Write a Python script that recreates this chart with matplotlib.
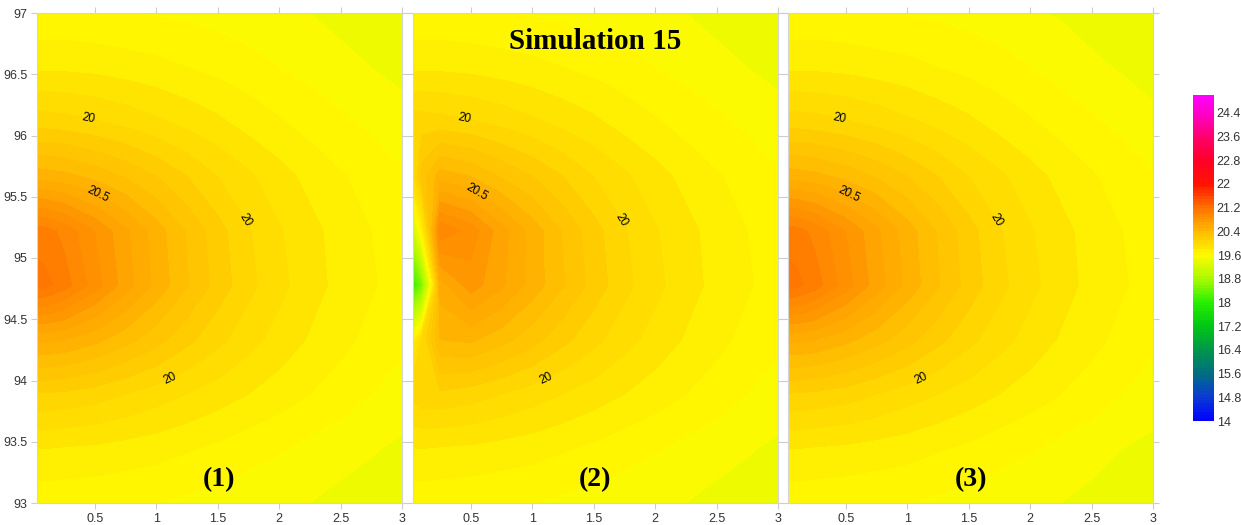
import numpy as np
import matplotlib
matplotlib.use("Agg")
import matplotlib.pyplot as plt
from matplotlib.colors import LinearSegmentedColormap, Normalize

# ---------------------------------------------------------------------------
# Data: temperature field on a rectilinear grid (rows follow y_grid,
# columns follow x_grid), one table per simulation case.
# ---------------------------------------------------------------------------
x_grid = [0.0, 0.1, 0.25, 0.5, 0.75, 1.0, 1.25, 1.5, 1.75, 2.0, 2.25, 2.5, 2.75, 3.0]
y_grid = [93.0, 93.444, 93.889, 94.333, 94.778, 95.222, 95.667, 96.111, 96.556, 97.0]

temp_case1 = [
    [19.63, 19.63, 19.63, 19.62, 19.61, 19.60, 19.58, 19.56, 19.54, 19.52, 19.50, 19.47, 19.45, 19.42],
    [19.80, 19.80, 19.79, 19.78, 19.76, 19.74, 19.71, 19.68, 19.64, 19.61, 19.57, 19.54, 19.51, 19.48],
    [20.09, 20.09, 20.08, 20.05, 20.00, 19.95, 19.90, 19.85, 19.80, 19.75, 19.70, 19.65, 19.60, 19.56],
    [20.52, 20.52, 20.50, 20.43, 20.34, 20.24, 20.13, 20.03, 19.94, 19.86, 19.79, 19.73, 19.67, 19.62],
    [21.15, 21.13, 21.05, 20.85, 20.65, 20.47, 20.31, 20.16, 20.03, 19.93, 19.84, 19.77, 19.71, 19.66],
    [21.06, 21.04, 20.97, 20.80, 20.62, 20.45, 20.29, 20.14, 20.01, 19.91, 19.83, 19.76, 19.70, 19.65],
    [20.46, 20.45, 20.43, 20.37, 20.29, 20.20, 20.10, 20.00, 19.92, 19.84, 19.77, 19.71, 19.66, 19.61],
    [20.05, 20.05, 20.04, 20.01, 19.97, 19.92, 19.87, 19.82, 19.76, 19.71, 19.66, 19.62, 19.58, 19.54],
    [19.78, 19.78, 19.78, 19.77, 19.75, 19.73, 19.70, 19.67, 19.64, 19.60, 19.57, 19.53, 19.50, 19.47],
    [19.62, 19.62, 19.62, 19.61, 19.60, 19.59, 19.58, 19.56, 19.54, 19.52, 19.50, 19.47, 19.45, 19.42],
]

temp_case2 = [
    [19.63, 19.63, 19.63, 19.62, 19.61, 19.60, 19.58, 19.56, 19.54, 19.52, 19.50, 19.47, 19.45, 19.42],
    [19.80, 19.80, 19.79, 19.78, 19.76, 19.74, 19.71, 19.68, 19.64, 19.61, 19.57, 19.54, 19.51, 19.48],
    [20.02, 20.07, 20.08, 20.05, 20.00, 19.95, 19.90, 19.85, 19.80, 19.75, 19.70, 19.65, 19.60, 19.56],
    [19.60, 20.00, 20.40, 20.42, 20.34, 20.24, 20.13, 20.03, 19.94, 19.86, 19.79, 19.73, 19.67, 19.62],
    [17.90, 18.50, 20.55, 20.75, 20.62, 20.46, 20.31, 20.16, 20.03, 19.93, 19.84, 19.77, 19.71, 19.66],
    [18.90, 19.70, 20.98, 20.86, 20.64, 20.46, 20.29, 20.14, 20.01, 19.91, 19.83, 19.76, 19.70, 19.65],
    [19.85, 20.25, 20.45, 20.40, 20.29, 20.20, 20.10, 20.00, 19.92, 19.84, 19.77, 19.71, 19.66, 19.61],
    [20.05, 20.05, 20.04, 20.01, 19.97, 19.92, 19.87, 19.82, 19.76, 19.71, 19.66, 19.62, 19.58, 19.54],
    [19.78, 19.78, 19.78, 19.77, 19.75, 19.73, 19.70, 19.67, 19.64, 19.60, 19.57, 19.53, 19.50, 19.47],
    [19.62, 19.62, 19.62, 19.61, 19.60, 19.59, 19.58, 19.56, 19.54, 19.52, 19.50, 19.47, 19.45, 19.42],
]

temp_case3 = [
    [19.63, 19.63, 19.63, 19.62, 19.61, 19.60, 19.58, 19.56, 19.54, 19.52, 19.50, 19.47, 19.44, 19.40],
    [19.80, 19.80, 19.79, 19.78, 19.76, 19.74, 19.71, 19.68, 19.64, 19.61, 19.57, 19.54, 19.50, 19.47],
    [20.09, 20.09, 20.08, 20.05, 20.00, 19.95, 19.90, 19.85, 19.80, 19.75, 19.70, 19.65, 19.60, 19.56],
    [20.52, 20.52, 20.50, 20.43, 20.34, 20.24, 20.13, 20.03, 19.94, 19.86, 19.79, 19.73, 19.67, 19.62],
    [21.15, 21.13, 21.05, 20.85, 20.65, 20.47, 20.31, 20.16, 20.03, 19.93, 19.84, 19.77, 19.71, 19.66],
    [21.06, 21.04, 20.97, 20.80, 20.62, 20.45, 20.29, 20.14, 20.01, 19.91, 19.83, 19.76, 19.70, 19.65],
    [20.46, 20.45, 20.43, 20.37, 20.29, 20.20, 20.10, 20.00, 19.92, 19.84, 19.77, 19.71, 19.66, 19.61],
    [20.05, 20.05, 20.04, 20.01, 19.97, 19.92, 19.87, 19.82, 19.76, 19.71, 19.66, 19.62, 19.57, 19.53],
    [19.78, 19.78, 19.78, 19.77, 19.75, 19.73, 19.70, 19.67, 19.64, 19.60, 19.56, 19.52, 19.49, 19.45],
    [19.62, 19.62, 19.62, 19.61, 19.60, 19.59, 19.58, 19.56, 19.54, 19.51, 19.49, 19.46, 19.43, 19.40],
]

panel_tags = ["(1)", "(2)", "(3)"]
title_text = "Simulation 15"
labelled_levels = [20.0, 20.5]
x_ticks = [0.5, 1, 1.5, 2, 2.5, 3]
y_ticks = [93, 93.5, 94, 94.5, 95, 95.5, 96, 96.5, 97]
cbar_ticks = [14, 14.8, 15.6, 16.4, 17.2, 18, 18.8, 19.6, 20.4, 21.2, 22, 22.8, 23.6, 24.4]

# ---------------------------------------------------------------------------
# Colour scale
# ---------------------------------------------------------------------------
vmin, vmax = 14.0, 25.0
anchor_vals = [14.0, 14.8, 15.6, 16.4, 17.2, 18.0, 18.8, 19.6, 20.4, 21.2, 22.0, 22.8, 23.6, 24.4, 25.0]
anchor_cols = ["#0000ff", "#0a3cd2", "#006e82", "#00964b", "#00c814", "#28f000", "#aafa00",
               "#fffa00", "#ffb900", "#ff7300", "#ff1400", "#ff0028", "#ff006e", "#ff00c8", "#ff00ff"]
cmap = LinearSegmentedColormap.from_list(
    "temp", [((v - vmin) / (vmax - vmin), c) for v, c in zip(anchor_vals, anchor_cols)])
norm = Normalize(vmin, vmax)
fill_levels = np.linspace(vmin, vmax, 111)

plt.rcParams["font.family"] = ["Liberation Sans", "DejaVu Sans"]

fig = plt.figure(figsize=(12.41, 5.25), dpi=100)
W, H = 1241.0, 525.0
ax_bottom, ax_height = (H - 503) / H, 490 / H
ax_width = 365 / W
lefts = [37 / W, 413 / W, 788 / W]

label_spots = [(0.44, 96.08), (0.46, 95.41), (1.69, 95.29), (1.08, 94.09)]

X, Y = np.meshgrid(x_grid, y_grid)
cases = [temp_case1, temp_case2, temp_case3]
axes = []
cs_fill = None
for i, (left, field) in enumerate(zip(lefts, cases)):
    ax = fig.add_axes([left, ax_bottom, ax_width, ax_height])
    Z = np.array(field)
    cs_fill = ax.contourf(X, Y, Z, levels=fill_levels, cmap=cmap, norm=norm, antialiased=False)
    cl = ax.contour(X, Y, Z, levels=labelled_levels, colors="k", linewidths=0)
    ax.clabel(cl, fmt="%g", fontsize=8.5, colors="k", inline=False, manual=label_spots)

    ax.set_xlim(0.03, 3)
    ax.set_ylim(93, 97)
    ax.set_xticks(x_ticks)
    ax.set_xticklabels([f"{t:g}" for t in x_ticks])
    ax.set_yticks(y_ticks)
    ax.set_yticklabels([f"{t:g}" for t in y_ticks])
    ax.tick_params(direction="out", length=4, width=0.8, color="#cccccc",
                   labelsize=9, labelcolor="#333333", top=True, right=True,
                   labeltop=False, labelright=False, labelleft=(i == 0), pad=3)
    for sp in ax.spines.values():
        sp.set_color("#d4d4d4")
        sp.set_linewidth(0.8)

    ax.text(0.5, 0.047, panel_tags[i], transform=ax.transAxes, ha="center", va="center",
            fontsize=20, fontweight="bold", family="Liberation Serif", color="k")
    axes.append(ax)

axes[1].text(0.5, 0.941, title_text, transform=axes[1].transAxes, ha="center", va="center",
             fontsize=21, fontweight="bold", family="Liberation Serif", color="k")

# Colour bar
cax = fig.add_axes([1193 / W, (H - 421) / H, 21 / W, 326 / H])
cb = fig.colorbar(cs_fill, cax=cax, ticks=cbar_ticks)
cb.ax.set_yticklabels([f"{t:g}" for t in cbar_ticks])
cb.ax.tick_params(length=0, labelsize=9, labelcolor="#333333", pad=2)
cb.outline.set_visible(False)

fig.savefig("out.png", dpi=100)
